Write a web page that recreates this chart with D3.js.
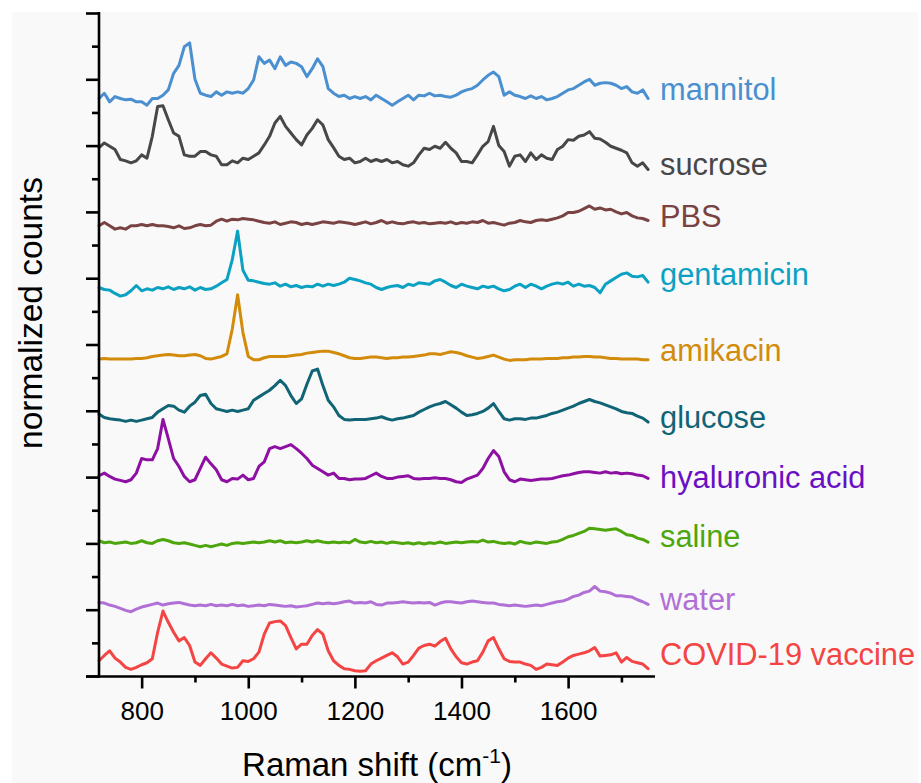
<!DOCTYPE html>
<html>
<head>
<meta charset="utf-8">
<script src="https://cdn.jsdelivr.net/npm/d3@7/dist/d3.min.js"></script>
<style>
  html, body { margin: 0; padding: 0; background: #ffffff; }
  svg { display: block; font-family: "Liberation Sans", Arial, sans-serif; }
</style>
</head>
<body>
<svg id="chart" width="921" height="783"></svg>
<script>
// ---------------- data ----------------
const ramanShift = [
  720,730,740,750,760,770,780,790,800,810,
  820,830,840,850,860,870,880,890,900,910,
  920,930,940,950,960,970,980,990,1000,1010,
  1020,1030,1040,1050,1060,1070,1080,1090,1100,1110,
  1120,1130,1140,1150,1160,1170,1180,1190,1200,1210,
  1220,1230,1240,1250,1260,1270,1280,1290,1300,1310,
  1320,1330,1340,1350,1360,1370,1380,1390,1400,1410,
  1420,1430,1440,1450,1460,1470,1480,1490,1500,1510,
  1520,1530,1540,1550,1560,1570,1580,1590,1600,1610,
  1620,1630,1640,1650,1660,1670,1680,1690,1700,1710,
  1720,1730,1740,1750
];

const seriesNames = ["mannitol","sucrose","PBS","gentamicin","amikacin","glucose","hyaluronic acid","saline","water","COVID-19 vaccine"];

// normalized counts (stacked, offset included)
const mannitol = [
  871,879,866,874,871,869,870,866,866,861,
  871,871,876,884,909,921,949,955,900,879,
  876,874,881,876,881,879,881,879,886,899,
  934,924,929,916,934,921,926,924,919,904,
  916,931,919,886,879,874,876,871,874,871,
  874,869,876,871,866,861,866,871,876,869,
  876,875,879,875,876,874,873,876,881,884,
  886,891,899,906,911,904,876,881,876,874,
  871,875,871,874,869,871,874,879,884,886,
  891,896,900,891,894,895,894,891,886,889,
  881,879,884,871
];
const sucrose = [
  797,804,799,794,779,777,774,777,786,781,
  814,859,860,839,819,814,786,784,784,791,
  791,786,784,771,771,777,774,781,779,784,
  789,801,814,834,844,829,819,809,801,816,
  826,839,831,809,797,784,779,781,774,776,
  781,776,779,776,779,774,776,771,769,774,
  786,796,794,799,796,805,796,789,776,776,
  774,786,799,806,829,800,791,769,784,786,
  776,789,779,786,781,779,794,799,809,808,
  814,816,821,811,810,805,799,796,793,789,
  774,769,774,764
];
const pbs = [
  679,684,679,674,676,674,679,679,681,679,
  681,679,679,678,676,679,675,676,679,681,
  679,680,686,689,686,689,688,690,689,688,
  686,684,683,685,681,683,685,684,681,683,
  681,683,685,684,683,685,684,683,681,683,
  685,682,684,687,683,685,683,682,684,685,
  683,684,682,683,684,683,685,682,684,683,
  685,684,687,683,684,682,680,683,684,687,
  685,684,687,688,687,689,691,694,699,699,
  701,705,709,704,706,703,704,700,697,699,
  694,691,690,687
];
const gentamicin = [
  586,583,582,577,573,575,581,589,581,584,
  582,586,584,587,583,586,584,587,582,586,
  583,584,588,593,598,628,671,612,597,596,
  594,592,591,593,588,591,587,589,586,588,
  587,591,588,591,589,591,594,600,598,596,
  593,591,586,583,586,588,589,586,591,589,
  593,592,591,596,598,594,589,586,591,588,
  586,584,588,586,588,584,581,583,588,591,
  586,591,588,584,588,591,593,591,594,588,
  591,588,589,586,578,591,596,601,606,608,
  603,602,604,594
];
const amikacin = [
  478,479,478,478,478,478,478,479,479,480,
  482,483,484,485,484,483,483,484,485,483,
  479,478,480,482,486,523,575,518,482,477,
  477,480,482,482,482,482,483,484,485,487,
  488,489,490,490,488,486,483,480,479,479,
  480,481,481,480,479,480,480,481,481,482,
  483,484,486,486,485,487,489,488,486,483,
  481,479,480,482,484,481,478,476,477,477,
  477,478,478,478,479,479,479,480,480,481,
  481,482,482,481,481,480,479,479,478,478,
  478,478,477,477
];
const glucose = [
  395,390,388,387,386,384,386,384,386,388,
  390,398,403,408,407,401,398,407,413,423,
  425,411,403,401,399,401,399,401,403,416,
  421,426,431,438,446,438,423,411,418,440,
  460,463,438,416,406,393,387,386,387,387,
  387,388,389,391,388,386,388,389,391,393,
  398,402,406,409,411,414,409,404,398,393,
  394,396,399,404,411,399,388,386,388,388,
  387,389,389,391,393,396,398,401,404,407,
  411,414,417,414,412,409,406,403,399,397,
  396,392,389,383
];
const hyaluronicAcid = [
  302,306,301,297,295,293,296,306,328,326,
  326,343,387,358,328,316,301,293,296,313,
  330,320,311,296,293,298,297,303,296,298,
  316,323,343,346,343,346,349,343,336,328,
  318,313,308,303,306,298,298,296,297,297,
  298,302,306,301,298,298,300,301,302,298,
  297,298,298,299,298,298,296,293,292,297,
  300,303,313,328,340,331,308,296,293,297,
  296,295,296,297,297,298,300,302,303,305,
  307,308,308,307,306,308,306,307,305,306,
  305,303,302,298
];
const saline = [
  204,201,202,200,201,202,200,201,204,201,
  200,204,206,204,201,200,201,199,197,195,
  197,195,197,199,197,200,201,200,201,202,
  201,202,204,202,204,201,202,201,202,204,
  202,204,202,201,202,201,202,201,206,202,
  201,203,201,202,200,202,201,200,201,199,
  201,199,201,200,202,200,201,202,201,202,
  203,202,205,202,203,201,200,201,199,203,
  201,200,202,201,200,202,203,206,210,212,
  215,218,223,222,221,220,221,222,218,213,
  212,208,206,202
];
const water = [
  111,110,107,105,102,99,97,101,104,106,
  108,110,107,109,110,111,109,107,106,107,
  106,108,106,107,106,108,106,107,105,106,
  107,106,108,107,106,105,106,104,105,106,
  108,110,109,110,109,110,112,113,110,111,
  110,112,108,107,110,110,111,112,111,110,
  111,110,111,107,110,112,112,111,110,112,
  113,112,111,110,110,108,107,106,107,106,
  105,106,107,106,108,110,112,113,116,120,
  122,126,128,135,128,127,125,121,121,120,
  119,115,112,108
];
const covidVaccine = [
  23,31,38,27,21,13,10,13,17,20,
  26,66,98,81,66,53,58,46,21,16,
  26,35,27,18,15,12,13,23,22,26,
  36,63,80,82,83,76,58,41,48,48,
  61,70,63,38,23,16,11,10,8,7,
  8,18,23,27,31,35,29,18,21,31,
  42,46,48,45,52,57,41,29,20,18,
  21,23,36,53,58,41,26,22,21,21,
  18,16,10,13,18,17,16,21,27,31,
  33,35,38,43,30,31,32,35,21,28,
  22,20,18,11
];

const xMajorTicks = [800, 1000, 1200, 1400, 1600];
const xMinorTicks = [900, 1100, 1300, 1500, 1700];
const yMajorTicks = [0,100,200,300,400,500,600,700,800,900,1000];
const yMinorTicks = [50,150,250,350,450,550,650,750,850,950];

// ---------------- styles / layout ----------------
const seriesValues = [mannitol, sucrose, pbs, gentamicin, amikacin, glucose, hyaluronicAcid, saline, water, covidVaccine];
const lineColors  = ["#4a8fd0","#474747","#7a4343","#0ba1c3","#d28b0b","#106475","#8e10a3","#4ea60d","#b170d6","#f44444"];
const labelColors = ["#4a8fd0","#474747","#7a4343","#0ba1c3","#d28b0b","#106475","#6a10c4","#4ea60d","#b170d6","#f44444"];
const labelBaselines = [100, 175, 227, 285, 361, 428, 488, 547, 610, 665];

const svg = d3.select("#chart");
svg.append("rect").attr("x", 12).attr("y", 12).attr("width", 906).attr("height", 771).attr("fill", "#f9f9f9");

const x = d3.scaleLinear().domain([720, 1763]).range([99, 655]);
const y = d3.scaleLinear().domain([0, 1000]).range([676, 13]);

const line = d3.line().x((d, i) => x(ramanShift[i])).y(d => y(d));

const g = svg.append("g");
seriesValues.forEach((vals, k) => {
  g.append("path")
    .datum(vals)
    .attr("d", line)
    .attr("fill", "none")
    .attr("stroke", lineColors[k])
    .attr("stroke-width", 3)
    .attr("stroke-linejoin", "round")
    .attr("stroke-linecap", "round");
  svg.append("text")
    .attr("x", 660).attr("y", labelBaselines[k])
    .attr("fill", labelColors[k])
    .attr("font-size", 30.8)
    .text(seriesNames[k]);
});

// axes
const axisColor = "#000";
const xAxis = svg.append("g").attr("transform", "translate(0,676.5)")
  .call(d3.axisBottom(x).tickValues(xMajorTicks).tickSize(12).tickPadding(13).tickSizeOuter(0).tickFormat(d3.format("d")));
xAxis.select(".domain").remove();
xAxis.selectAll(".tick line").attr("stroke", axisColor).attr("stroke-width", 2.6);
xAxis.selectAll(".tick text").attr("font-size", 26).attr("fill", "#000").attr("font-family", "Liberation Sans, Arial, sans-serif");
const xMinor = svg.append("g").attr("transform", "translate(0,676.5)")
  .call(d3.axisBottom(x).tickValues(xMinorTicks).tickSize(6).tickSizeOuter(0).tickFormat(""));
xMinor.select(".domain").remove();
xMinor.selectAll(".tick line").attr("stroke", axisColor).attr("stroke-width", 2.6);

const yAxis = svg.append("g").attr("transform", "translate(99,0)")
  .call(d3.axisLeft(y).tickValues(yMajorTicks).tickSize(13).tickSizeOuter(0).tickFormat(""));
yAxis.select(".domain").remove();
yAxis.selectAll(".tick line").attr("stroke", axisColor).attr("stroke-width", 2.6);
const yMinor = svg.append("g").attr("transform", "translate(99,0)")
  .call(d3.axisLeft(y).tickValues(yMinorTicks).tickSize(7).tickSizeOuter(0).tickFormat(""));
yMinor.select(".domain").remove();
yMinor.selectAll(".tick line").attr("stroke", axisColor).attr("stroke-width", 2.6);

svg.append("line").attr("x1", 99).attr("x2", 99).attr("y1", 12).attr("y2", 677.8)
  .attr("stroke", axisColor).attr("stroke-width", 2.6);
svg.append("line").attr("x1", 86).attr("x2", x(1763)).attr("y1", 676.5).attr("y2", 676.5)
  .attr("stroke", axisColor).attr("stroke-width", 2.6);

// titles
const xt = svg.append("text").attr("x", 377).attr("y", 776).attr("text-anchor", "middle")
  .attr("font-size", 33).attr("fill", "#000");
xt.append("tspan").text("Raman shift (cm");
xt.append("tspan").attr("font-size", 21).attr("dy", -13).text("-1");
xt.append("tspan").attr("dy", 13).text(")");

svg.append("text").attr("transform", "translate(42,313) rotate(-90)")
  .attr("text-anchor", "middle").attr("font-size", 33.5).attr("fill", "#000")
  .text("normalized counts");
</script>
</body>
</html>
